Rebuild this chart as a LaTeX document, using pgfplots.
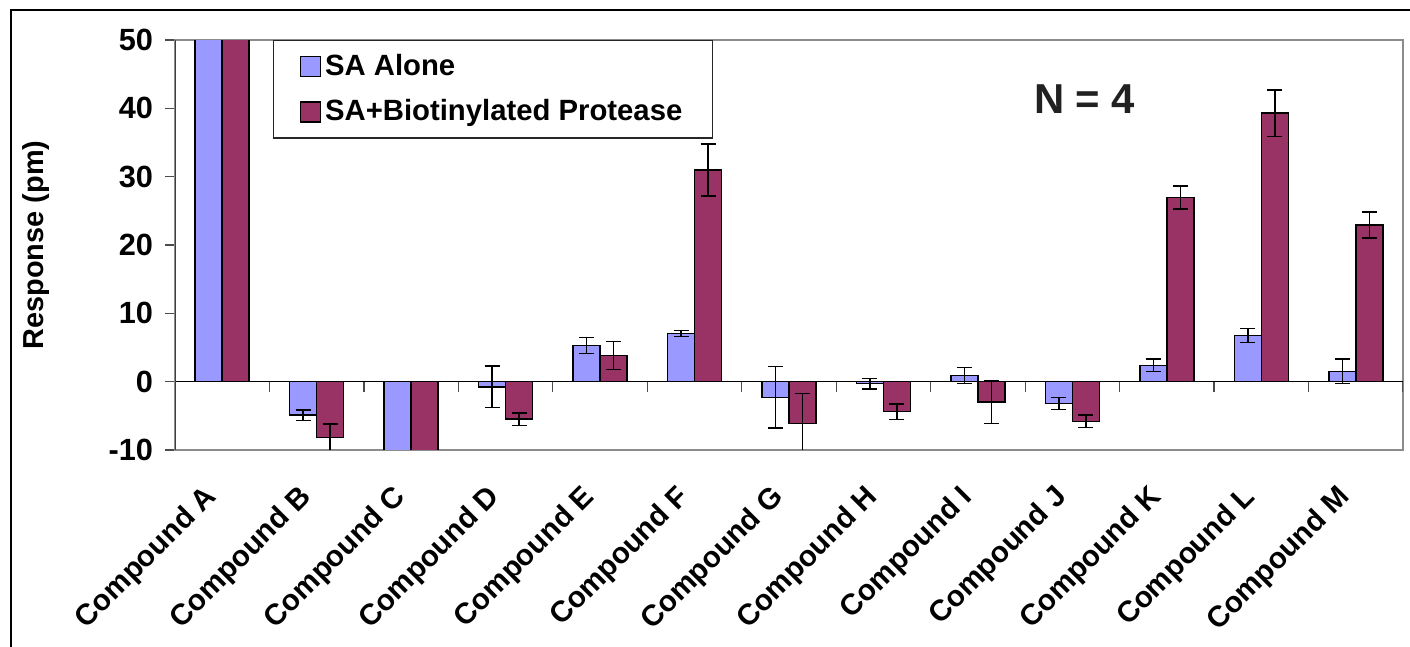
\documentclass[border=0pt]{standalone}
\usepackage{fontspec}
\setmainfont{Liberation Sans}
\usepackage{pgfplots}
\usepackage{pgfplotstable}
\pgfplotsset{compat=1.18}
\definecolor{sablue}{HTML}{9999FF}
\definecolor{sared}{HTML}{993366}
\definecolor{framegray}{HTML}{8C8C8C}

% x = category index (A=0 ... M=12), y = response, ey = error
\pgfplotstableread{
x y ey
0 70 0
1 -4.9 0.75
2 -20 0
3 -0.75 3.05
4 5.3 1.2
5 7.05 0.45
6 -2.3 4.5
7 -0.3 0.75
8 0.9 1.2
9 -3.2 0.85
10 2.4 0.9
11 6.75 1.05
12 1.5 1.8
}\tblAlone

\pgfplotstableread{
x y ey
0 70 0
1 -8.2 2.0
2 -20 0
3 -5.5 0.9
4 3.8 2.05
5 31.0 3.8
6 -6.1 4.4
7 -4.4 1.15
8 -2.95 3.15
9 -5.8 0.9
10 26.95 1.65
11 39.3 3.4
12 22.9 1.9
}\tblProt

\begin{document}
\begin{tikzpicture}
\useasboundingbox (0,0) rectangle (705bp,323.5bp);
\draw[black, line width=0.8bp] (5.5bp,0) -- (5.5bp,318.5bp) -- (705bp,318.5bp);
\begin{axis}[
  at={(87.5bp,98.5bp)}, anchor=south west,
  scale only axis, width=614bp, height=205bp,
  xmin=-0.5, xmax=12.5, ymin=-10, ymax=50,
  ybar=0pt, bar width=13.5bp,
  xtick={0,...,12},
  xticklabels={Compound A,Compound B,Compound C,Compound D,Compound E,Compound F,Compound G,Compound H,Compound I,Compound J,Compound K,Compound L,Compound M},
  xtick style={draw=none},
  ytick={-10,0,10,20,30,40,50},
  ytick pos=left, tick align=outside, major tick length=5bp,
  ytick style={black!70, line width=0.6bp},
  axis line style={framegray, line width=0.9bp},
  /pgf/number format/assume math mode=true,
  yticklabel style={font=\bfseries\fontsize{15.4}{17}\selectfont, xshift=-2.5bp},
  xticklabel style={xshift=-2.5bp, yshift=-14bp, rotate=45, anchor=east, font=\bfseries\fontsize{14.8}{17}\selectfont},
  ylabel={Response (pm)},
  ylabel style={font=\bfseries\fontsize{14.5}{17}\selectfont, at={(axis description cs:-0.113,0.5)}, anchor=center},
  legend style={at={(axis description cs:0.0798,1)}, anchor=north west, draw=black!85, line width=0.6bp, fill=white, font=\bfseries\fontsize{14.7}{17}\selectfont, inner xsep=13bp, inner ysep=5bp, row sep=6.5bp},
  legend cell align=left,
  legend image code/.code={\draw[#1, line width=0.75bp] (0bp,-5bp) rectangle (10bp,5bp);},
  error bars/error bar style={line width=0.75bp, black},
  error bars/error mark options={rotate=90, mark size=3.75bp, line width=0.75bp, black},
]
\addplot[fill=sablue, draw=black, line width=0.75bp, error bars/.cd, y dir=both, y explicit] table[x=x, y=y, y error=ey] {\tblAlone};
\addlegendentry{SA Alone}
\addplot[fill=sared, draw=black, line width=0.75bp, error bars/.cd, y dir=both, y explicit] table[x=x, y=y, y error=ey] {\tblProt};
\addlegendentry{SA+Biotinylated Protease}
\draw[black, line width=0.75bp] (axis cs:-0.5,0) -- (axis cs:12.5,0);
\pgfplotsinvokeforeach{0.5,1.5,2.5,3.5,4.5,5.5,6.5,7.5,8.5,9.5,10.5,11.5,12.5}{\draw[black!70, line width=0.6bp] (axis cs:#1,0) -- ([yshift=-5bp]axis cs:#1,0);}
\draw[black!75, line width=0.9bp] (axis cs:-0.5,-10) -- (axis cs:-0.5,50);
\node[font=\bfseries\fontsize{21}{24}\selectfont, text=black!87] at (axis cs:9.13,41.3) {N = 4};
\end{axis}
\end{tikzpicture}
\end{document}
